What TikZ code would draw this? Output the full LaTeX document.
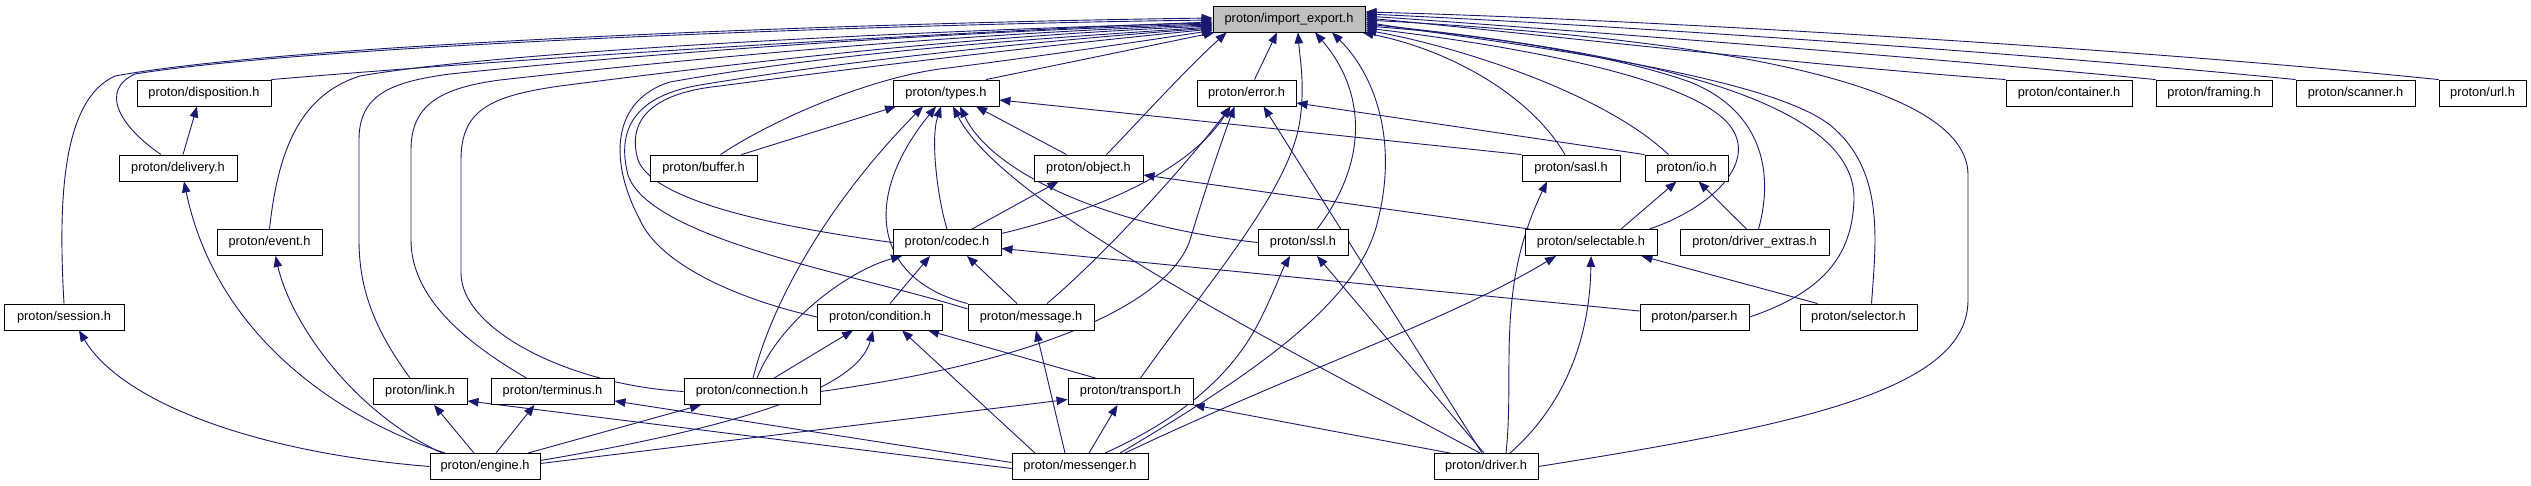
\documentclass[tikz,border=0pt]{standalone}
\usepackage{fontspec}
\setmainfont{Liberation Sans}
\usetikzlibrary{arrows.meta,shadows}
\definecolor{edgec}{HTML}{191970}
\definecolor{iefill}{HTML}{BFBFBF}
\pgfdeclarelayer{bg}
\pgfsetlayers{bg,main}
\begin{document}
\begin{tikzpicture}[x=1pt,y=-1pt,
  box/.style={draw=black,line width=0.9pt,fill=white,minimum height=26pt,inner sep=0pt,
    font=\fontsize{12.8}{14}\selectfont,
    drop shadow={shadow xshift=0.9pt,shadow yshift=-0.9pt,fill=black!55,opacity=1}},
  dep/.style={draw=edgec,line width=0.9pt,-{Triangle[length=11pt,width=8.5pt]}}]
\useasboundingbox (0,0) rectangle (2531,485);
% row 0
\node[box,minimum width=152pt,fill=iefill] (ie) at (1289,19) {proton/import\_export.h};
% row 1
\node[box,minimum width=134pt] (disp) at (204,93) {proton/disposition.h};
\node[box,minimum width=106pt] (types) at (946,93) {proton/types.h};
\node[box,minimum width=99pt] (error) at (1246.5,93) {proton/error.h};
\node[box,minimum width=126pt] (container) at (2069,93) {proton/container.h};
\node[box,minimum width=116pt] (framing) at (2214,93) {proton/framing.h};
\node[box,minimum width=119pt] (scanner) at (2355.5,93) {proton/scanner.h};
\node[box,minimum width=87pt] (url) at (2482.5,93) {proton/url.h};
% row 2
\node[box,minimum width=118pt] (delivery) at (178,168) {proton/delivery.h};
\node[box,minimum width=107pt] (buffer) at (703.5,168) {proton/buffer.h};
\node[box,minimum width=109pt] (object) at (1088.5,168) {proton/object.h};
\node[box,minimum width=98pt] (sasl) at (1571,168) {proton/sasl.h};
\node[box,minimum width=83pt] (io) at (1686.5,168) {proton/io.h};
% row 3
\node[box,minimum width=105pt] (event) at (269.5,242.5) {proton/event.h};
\node[box,minimum width=108pt] (codec) at (947,242.5) {proton/codec.h};
\node[box,minimum width=90pt] (ssl) at (1303,242.5) {proton/ssl.h};
\node[box,minimum width=132pt] (selectable) at (1591,242.5) {proton/selectable.h};
\node[box,minimum width=149pt] (drvext) at (1754.5,242.5) {proton/driver\_extras.h};
% row 4
\node[box,minimum width=120pt] (session) at (64,317) {proton/session.h};
\node[box,minimum width=125pt] (condition) at (880,317) {proton/condition.h};
\node[box,minimum width=126pt] (message) at (1031,317) {proton/message.h};
\node[box,minimum width=109pt] (parser) at (1694.5,317) {proton/parser.h};
\node[box,minimum width=117pt] (selector) at (1858.5,317) {proton/selector.h};
% row 5
\node[box,minimum width=94pt] (link) at (420,391.5) {proton/link.h};
\node[box,minimum width=123pt] (terminus) at (552.5,391.5) {proton/terminus.h};
\node[box,minimum width=136pt] (connection) at (752,391.5) {proton/connection.h};
\node[box,minimum width=125pt] (transport) at (1130.5,391.5) {proton/transport.h};
% row 6
\node[box,minimum width=110pt] (engine) at (485,466.5) {proton/engine.h};
\node[box,minimum width=136pt] (messenger) at (1080,466.5) {proton/messenger.h};
\node[box,minimum width=104pt] (driver) at (1486,466.5) {proton/driver.h};

\begin{pgfonlayer}{bg}
% ---- into import_export from the left
\draw[dep] (session.north) .. controls (58,200) and (62,100) .. (115,76) .. controls (300,42) and (900,22) .. ([yshift=1pt]ie.west);
\draw[dep] ([xshift=-17pt]delivery.north) .. controls (118,125) and (100,90) .. (135,74) .. controls (320,44) and (900,24) .. ([yshift=-1pt]ie.west);
\draw[dep] (disp.north east) .. controls (600,52) and (1000,30) .. ([yshift=-3pt]ie.west);
\draw[dep] (event.north) .. controls (278,150) and (300,95) .. (360,76) .. controls (520,48) and (1000,28) .. ([yshift=-4pt]ie.west);
\draw[dep] ([xshift=-10pt]link.north) .. controls (375,330) and (359,290) .. (359,240) -- (359,140) .. controls (359,95) and (390,82) .. (450,74) .. controls (700,48) and (1000,30) .. ([yshift=-5pt]ie.west);
\draw[dep] ([xshift=-26pt]terminus.north) .. controls (470,345) and (411,300) .. (411,240) -- (411,150) .. controls (411,105) and (440,88) .. (500,80) .. controls (750,52) and (1000,32) .. ([yshift=-6pt]ie.west);
\draw[dep] (connection.west) .. controls (570,385) and (461,330) .. (461,273) -- (461,160) .. controls (461,110) and (490,96) .. (560,86) .. controls (800,55) and (1000,35) .. ([yshift=-7pt]ie.west);
\draw[dep] (condition.west) .. controls (740,300) and (660,265) .. (640,220) .. controls (608,160) and (612,100) .. (670,82) .. controls (850,50) and (1050,38) .. ([yshift=-8pt]ie.west);
\draw[dep] ([yshift=8pt]message.west) .. controls (860,275) and (650,240) .. (628,175) .. controls (615,125) and (640,95) .. (700,85) .. controls (850,60) and (1050,40) .. ([yshift=-9pt]ie.west);
\draw[dep] (codec.west) .. controls (800,230) and (655,205) .. (638,160) .. controls (625,115) and (660,92) .. (720,86) .. controls (900,62) and (1080,42) .. ([yshift=-10pt]ie.west);
\draw[dep] ([xshift=17pt]buffer.north) .. controls (780,115) and (880,75) .. (948,68) .. controls (1050,55) and (1150,40) .. ([yshift=2pt]ie.south west);
% ---- into import_export from below
\draw[dep] ([xshift=40pt]types.north) -- ([xshift=2pt]ie.south west);
\draw[dep] ([xshift=18pt]object.north) .. controls (1140,120) and (1185,70) .. ([xshift=14pt]ie.south west);
\draw[dep] ([xshift=8pt]error.north) -- ([xshift=-12pt]ie.south);
\draw[dep] ([xshift=10pt]transport.north) .. controls (1210,280) and (1290,190) .. (1300,120) .. controls (1305,85) and (1300,60) .. ([xshift=9pt]ie.south);
\draw[dep] ([xshift=14pt]ssl.north) .. controls (1370,160) and (1365,90) .. ([xshift=26pt]ie.south);
\draw[dep] ([xshift=40pt]messenger.north) .. controls (1260,370) and (1360,300) .. (1378,220) .. controls (1398,140) and (1375,75) .. ([xshift=43pt]ie.south);
% ---- into import_export from the right
\draw[dep] ([xshift=-6pt]sasl.north) .. controls (1530,95) and (1450,50) .. ([xshift=-3pt]ie.south east);
\draw[dep] ([xshift=-18pt]io.north) .. controls (1600,90) and (1450,45) .. ([yshift=-11pt]ie.east);
\draw[dep] ([xshift=-8pt]selectable.north east) .. controls (1720,205) and (1770,150) .. (1715,112) .. controls (1650,65) and (1450,38) .. ([yshift=-9pt]ie.east);
\draw[dep] ([xshift=4pt]drvext.north) .. controls (1775,170) and (1760,110) .. (1690,82) .. controls (1600,50) and (1450,32) .. ([yshift=-7pt]ie.east);
\draw[dep] (parser.east) .. controls (1830,290) and (1852,250) .. (1854,200) .. controls (1856,120) and (1720,60) .. ([yshift=-5pt]ie.east);
\draw[dep] ([xshift=13pt]selector.north) .. controls (1876,240) and (1885,170) .. (1830,125) .. controls (1760,70) and (1460,38) .. ([yshift=-3pt]ie.east);
\draw[dep] (driver.east) .. controls (1800,425) and (1968,390) .. (1968,300) -- (1968,175) .. controls (1968,80) and (1700,38) .. ([yshift=-1pt]ie.east);
\draw[dep] (container.north west) .. controls (1800,65) and (1500,30) .. ([yshift=1pt]ie.east);
\draw[dep] (framing.north west) .. controls (1900,55) and (1500,25) .. ([yshift=3pt]ie.east);
\draw[dep] (scanner.north west) .. controls (2000,50) and (1550,22) .. ([yshift=5pt]ie.east);
\draw[dep] (url.north west) .. controls (2100,45) and (1600,18) .. ([yshift=7pt]ie.east);
% ---- engine
\draw[dep] ([xshift=5pt]delivery.north) -- ([xshift=-7pt]disp.south);
\draw[dep] ([xshift=-40pt]engine.north) .. controls (330,415) and (215,330) .. ([xshift=6pt]delivery.south);
\draw[dep] ([xshift=-43pt]engine.north) .. controls (350,410) and (290,320) .. ([xshift=6pt]event.south);
\draw[dep] (engine.west) .. controls (250,452) and (120,400) .. ([xshift=15pt]session.south);
\draw[dep] ([xshift=-11pt]engine.north) -- ([xshift=14pt]link.south);
\draw[dep] ([xshift=11pt]engine.north) -- ([xshift=-18pt]terminus.south);
\draw[dep] ([xshift=43pt]engine.north) -- ([xshift=-51pt]connection.south);
\draw[dep] ([yshift=6pt]engine.east) .. controls (780,420) and (860,380) .. ([xshift=-7pt]condition.south);
\draw[dep] ([yshift=3pt]engine.east) -- ([yshift=-8pt]transport.west);
% ---- messenger
\draw[dep] ([yshift=-2pt]messenger.west) -- ([yshift=4pt]link.south east);
\draw[dep] ([yshift=4pt]messenger.west) -- ([yshift=4pt]terminus.south east);
\draw[dep] ([xshift=-45pt]messenger.north) -- ([xshift=22pt]condition.south);
\draw[dep] ([xshift=-15pt]messenger.north) -- ([xshift=5pt]message.south);
\draw[dep] ([xshift=9pt]messenger.north) -- ([xshift=-13pt]transport.south);
\draw[dep] ([xshift=25pt]messenger.north) .. controls (1200,410) and (1240,360) .. (1260,320) .. controls (1275,290) and (1282,270) .. ([xshift=-13pt]ssl.south);
\draw[dep] ([xshift=45pt]messenger.north) .. controls (1300,370) and (1450,320) .. ([xshift=-35pt]selectable.south);
% ---- transport
\draw[dep] ([xshift=-35pt]transport.north) -- ([xshift=48pt]condition.south);
% ---- driver
\draw[dep] ([xshift=-36pt]driver.north) -- (transport.south east);
\draw[dep] ([xshift=-6pt]driver.north) .. controls (1250,330) and (1000,200) .. ([xshift=7pt]types.south);
\draw[dep] ([xshift=-4pt]driver.north) -- ([xshift=17pt]error.south);
\draw[dep] ([xshift=-2pt]driver.north) -- ([xshift=14pt]ssl.south);
\draw[dep] ([xshift=20pt]driver.north) .. controls (1515,370) and (1495,290) .. ([xshift=-24pt]sasl.south);
\draw[dep] ([xshift=24pt]driver.north) .. controls (1570,400) and (1590,330) .. (selectable.south);
% ---- misc
\draw[dep] (sasl.north west) -- ([yshift=-7pt]types.east);
\draw[dep] (io.north west) -- ([yshift=-10pt]error.east);
\draw[dep] ([xshift=30pt]selectable.north) -- ([xshift=-10pt]io.south);
\draw[dep] ([xshift=-8pt]drvext.north) -- ([xshift=12pt]io.south);
\draw[dep] ([xshift=5pt]selectable.north west) -- ([yshift=-7pt]object.east);
\draw[dep] ([xshift=18pt]selector.north west) -- ([xshift=-16pt]selectable.south east);
\draw[dep] ([yshift=6pt]parser.west) -- ([yshift=-6pt]codec.east);
\draw[dep] ([xshift=25pt]codec.north) -- ([xshift=-30pt]object.south);
\draw[dep] (codec.north) .. controls (938,200) and (930,140) .. ([xshift=-5pt]types.south);
\draw[dep] ([yshift=9pt]codec.east) .. controls (1100,210) and (1190,170) .. ([xshift=-16pt]error.south);
\draw[dep] ([xshift=5pt]connection.north) .. controls (780,320) and (850,270) .. ([xshift=-45pt]codec.south);
\draw[dep] ([xshift=1pt]connection.north) .. controls (775,290) and (840,190) .. ([xshift=-23pt]types.south);
\draw[dep] ([xshift=22pt]connection.north) -- ([xshift=-27pt]condition.south);
\draw[dep] (connection.east) .. controls (1050,360) and (1170,300) .. (1190,240) .. controls (1205,190) and (1222,140) .. ([xshift=-12pt]error.south);
\draw[dep] ([xshift=10pt]condition.north) -- ([xshift=-17pt]codec.south);
\draw[dep] ([xshift=-14pt]message.north) -- ([xshift=20pt]codec.south);
\draw[dep] (message.north west) .. controls (875,280) and (860,200) .. ([xshift=-10pt]types.south);
\draw[dep] ([xshift=16pt]message.north) .. controls (1110,250) and (1190,160) .. ([xshift=-16pt]error.south);
\draw[dep] ([xshift=-22pt]object.north) -- ([xshift=30pt]types.south);
\draw[dep] ([xshift=38pt]buffer.north) -- ([xshift=-50pt]types.south);
\draw[dep] (ssl.west) .. controls (1100,225) and (990,170) .. ([xshift=14pt]types.south);
\end{pgfonlayer}
\end{tikzpicture}
\end{document}
